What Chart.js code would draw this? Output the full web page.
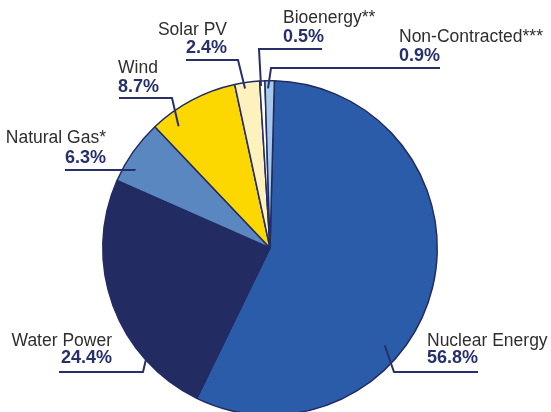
<!DOCTYPE html>
<html lang="en">
<head>
    <meta charset="UTF-8">
    <title>Generation Mix</title>
    <script src="https://cdn.jsdelivr.net/npm/chart.js"></script>
    <style>
        html, body { margin: 0; padding: 0; background: #fff; overflow: hidden; }
        #wrap { width: 551px; height: 412px; overflow: hidden; }
    </style>
</head>
<body>
    <div id="wrap"><canvas id="mix" width="551" height="420"></canvas></div>

    <script>
        // Data (share of supply, %)
        const sources = ['Nuclear Energy', 'Water Power', 'Natural Gas*', 'Wind', 'Solar PV', 'Bioenergy**', 'Non-Contracted***'];
        const shares = [56.8, 24.4, 6.3, 8.7, 2.4, 0.5, 0.9];
        const colors = ['#2a5ca9', '#222c63', '#5b87c0', '#fcd800', '#fdf1bd', '#ffffff', '#a9c9ea'];

        // Where each label sits and how its leader line runs into the slice
        // at = fraction along the slice angle, rf = fraction of the radius
        const labelLayout = [
            { align: 'left',  x: 427, yName: 346, yPct: 363, ux1: 394, ux2: 478, uy: 372, ex: 394, at: 0.63, rf: 0.90 },
            { align: 'right', x: 112, yName: 346, yPct: 363, ux1: 59,  ux2: 143, uy: 372, ex: 143, at: 0.25, rf: 1.00 },
            { align: 'right', x: 106, yName: 143, yPct: 163, ux1: 65,  ux2: 135, uy: 170, ex: 135, at: 0.27, rf: 0.93 },
            { align: 'left',  x: 118, yName: 73,  yPct: 92,  ux1: 119, ux2: 172, uy: 98,  ex: 172, at: 0.21, rf: 0.91 },
            { align: 'right', x: 227, yName: 35,  yPct: 53,  ux1: 186, ux2: 238, uy: 60,  ex: 238, at: 0.38, rf: 0.965 },
            { align: 'left',  x: 283, yName: 23,  yPct: 42,  ux1: 259, ux2: 322, uy: 49,  ex: 259, at: 0.20, rf: 0.97 },
            { align: 'left',  x: 399, yName: 42,  yPct: 61,  ux1: 271, ux2: 440, uy: 68,  ex: 271, at: 0.32, rf: 0.955 }
        ];

        const navy = '#27306b';

        // Plugin that draws the labels with their leader lines
        const leaderLabels = {
            id: 'leaderLabels',
            afterDraw(chart) {
                const ctx = chart.ctx;
                const arcs = chart.getDatasetMeta(0).data;
                ctx.save();
                arcs.forEach((arc, i) => {
                    const lay = labelLayout[i];
                    const p = arc.getProps(['x', 'y', 'startAngle', 'endAngle', 'outerRadius'], true);
                    const a = p.startAngle + lay.at * (p.endAngle - p.startAngle);
                    const px = p.x + Math.cos(a) * p.outerRadius * lay.rf;
                    const py = p.y + Math.sin(a) * p.outerRadius * lay.rf;

                    ctx.strokeStyle = navy;
                    ctx.lineWidth = 2;
                    ctx.beginPath();
                    const farX = lay.ex === lay.ux1 ? lay.ux2 : lay.ux1;
                    ctx.moveTo(farX, lay.uy);
                    ctx.lineTo(lay.ex, lay.uy);
                    ctx.lineTo(px, py);
                    ctx.stroke();

                    ctx.textAlign = lay.align;
                    ctx.textBaseline = 'alphabetic';
                    ctx.fillStyle = '#2e2e2e';
                    ctx.font = '17.5px "Liberation Sans", Arial, sans-serif';
                    ctx.fillText(sources[i], lay.x, lay.yName);
                    ctx.fillStyle = navy;
                    ctx.font = 'bold 18px "Liberation Sans", Arial, sans-serif';
                    ctx.fillText(shares[i].toFixed(1) + '%', lay.x, lay.yPct);
                });
                ctx.restore();
            }
        };

        new Chart(document.getElementById('mix'), {
            type: 'pie',
            data: {
                labels: sources,
                datasets: [{
                    data: shares,
                    backgroundColor: colors,
                    borderColor: '#222c63',
                    borderWidth: 1.5
                }]
            },
            options: {
                responsive: false,
                animation: false,
                rotation: 1.5,
                layout: { padding: { left: 102, right: 113, top: 80, bottom: 4 } },
                plugins: {
                    legend: { display: false },
                    tooltip: { enabled: false }
                }
            },
            plugins: [leaderLabels]
        });
    </script>
</body>
</html>
